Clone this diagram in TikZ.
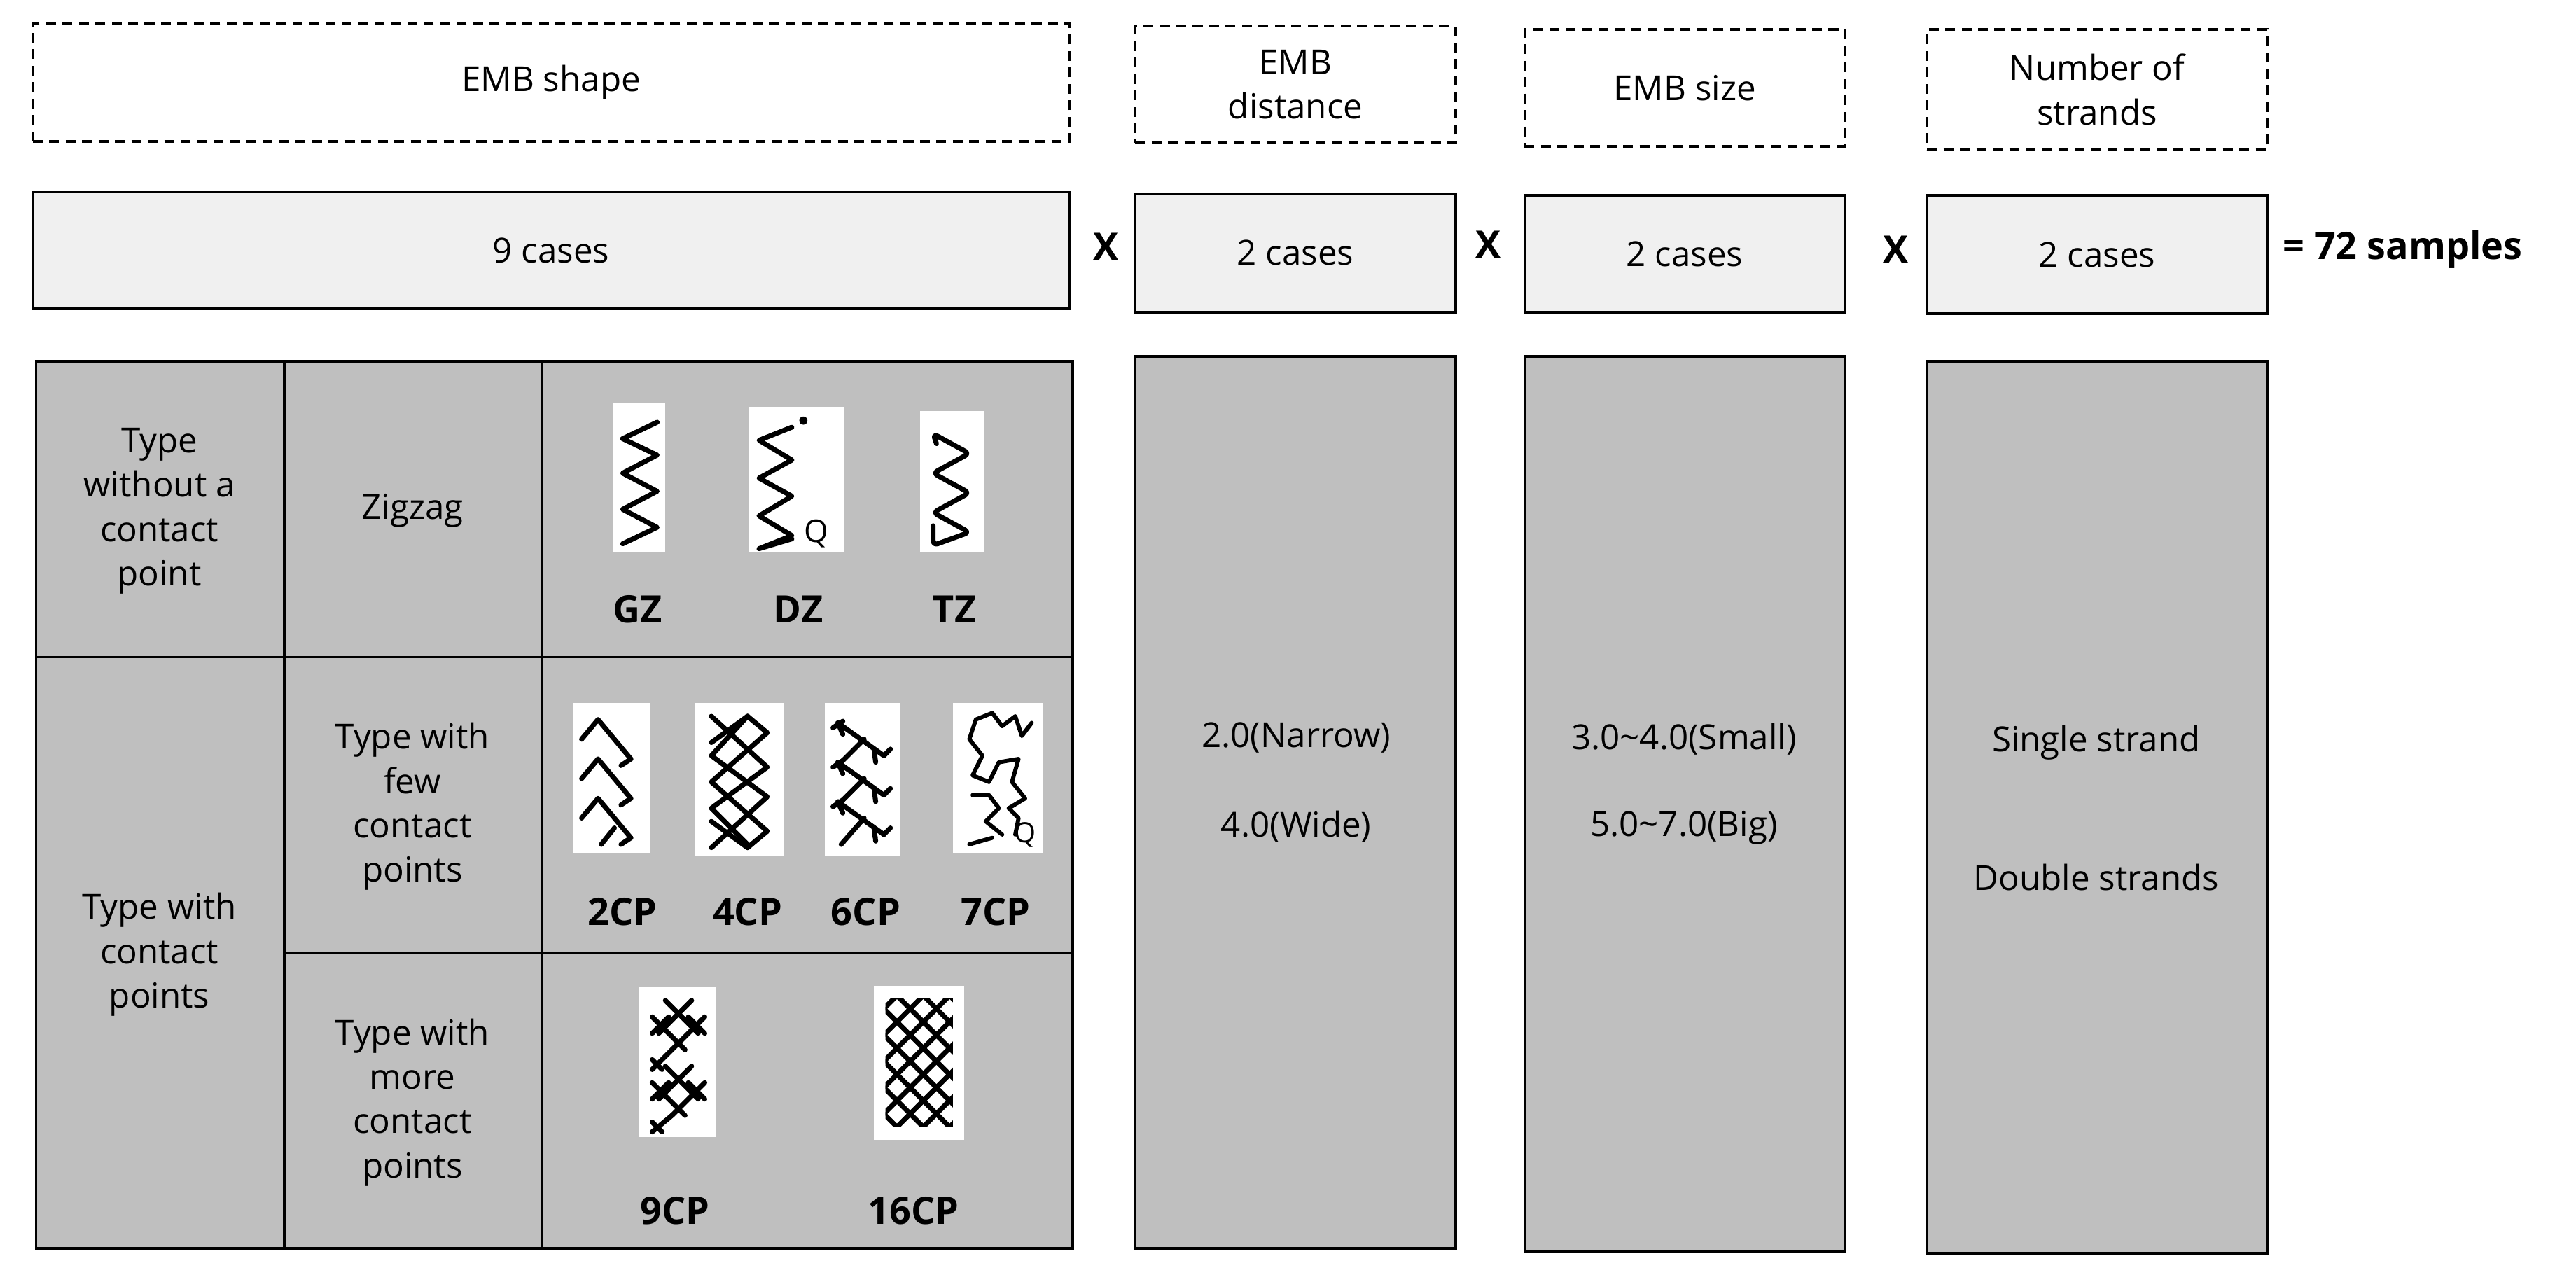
\documentclass[tikz,border=0pt]{standalone}
\usepackage{fontspec}
\setmainfont{Open Sans}
\begin{document}
\begin{tikzpicture}[x=1pt,y=-1pt,
  dbox/.style={draw,dashed,line width=1.6pt,dash pattern=on 6pt off 4pt},
  cbox/.style={draw,line width=1.6pt,fill=gray!12},
  gbox/.style={draw,line width=1.6pt,fill=gray!50},
  txt/.style={font=\fontsize{21}{27}\selectfont,align=center},
  lbl/.style={font=\fontsize{23}{27}\selectfont\bfseries},
  ic/.style={fill=white,draw=none},
  st/.style={line width=3pt,line join=round,line cap=round}]
\useasboundingbox (0,0) rectangle (1568,776);
% headers
\node[dbox,minimum width=631,minimum height=72,txt] (h1) at (335.5,50) {EMB shape};
\node[dbox,minimum width=195,minimum height=71,txt] (h2) at (788.5,51.5) {EMB\\distance};
\node[dbox,minimum width=195,minimum height=71,txt] (h3) at (1025.5,53.5) {EMB size};
\node[dbox,minimum width=207,minimum height=73,txt] (h4) at (1276.5,54.5) {Number of\\strands};
% cases
\node[cbox,minimum width=631,minimum height=71,txt] (c1) at (335.5,152.5) {9 cases};
\node[cbox,minimum width=195,minimum height=72,txt] (c2) at (788.5,154) {2 cases};
\node[cbox,minimum width=195,minimum height=71,txt] (c3) at (1025.5,154.5) {2 cases};
\node[cbox,minimum width=207,minimum height=72,txt] (c4) at (1276.5,155) {2 cases};
\node[lbl] (x1) at (673,150) {X};
\node[lbl] (x2) at (906,149) {X};
\node[lbl] (x3) at (1154,152) {X};
\node[lbl,anchor=west] (eq) at (1386,152) {= 72 samples};
% table
\draw[gbox] (22,220) rectangle (653,760);
\draw[line width=1.6pt] (173,220) -- (173,760) (330,220) -- (330,760)
  (22,400) -- (653,400) (173,580) -- (653,580);
\node[txt] (t1) at (97,311) {Type\\without a\\contact\\point};
\node[txt] (t2) at (97,581) {Type with\\contact\\points};
\node[txt] (t3) at (251,311) {Zigzag};
\node[txt] (t4) at (251,491) {Type with\\few\\contact\\points};
\node[txt] (t5) at (251,671) {Type with\\more\\contact\\points};
% columns
\node[gbox,minimum width=195,minimum height=543] (g2) at (788.5,488.5) {};
\node[gbox,minimum width=195,minimum height=545] (g3) at (1025.5,489.5) {};
\node[gbox,minimum width=207,minimum height=543] (g4) at (1276.5,491.5) {};
\node[txt] at (789,449) {2.0(Narrow)};
\node[txt] at (789,503) {4.0(Wide)};
\node[txt] at (1025,450) {3.0\textasciitilde 4.0(Small)};
\node[txt] at (1025,504) {5.0\textasciitilde 7.0(Big)};
\node[txt] at (1276,452) {Single strand};
\node[txt] at (1276,534) {Double strands};
% labels
\node[lbl] at (388,371) {GZ};
\node[lbl] at (486,371) {DZ};
\node[lbl] at (581,371) {TZ};
\node[lbl] at (379,555) {2CP};
\node[lbl] at (455,555) {4CP};
\node[lbl] at (527,555) {6CP};
\node[lbl] at (606,555) {7CP};
\node[lbl] at (411,737) {9CP};
\node[lbl] at (556,737) {16CP};
% GZ
\fill[ic] (373,245) rectangle (405,336);
\begin{scope}[shift={(373,245)}]
\draw[st] (27,12)--(6,22)--(27,32)--(6,43)--(27,54)--(6,65)--(27,76)--(6,86);
\end{scope}
% DZ
\fill[ic] (456,248) rectangle (514,336);
\begin{scope}[shift={(456,248)}]
\draw[st] (26,12)--(6,20)--(26,32)--(6,43)--(26,54)--(6,66)--(26,78)--(6,86)--(26,80);
\fill (33,8) circle (2.5);
\node[font=\fontsize{19}{20}\selectfont] at (41,77) {Q};
\end{scope}
% TZ
\fill[ic] (560,250) rectangle (599,336);
\begin{scope}[shift={(560,250)}]
\draw[st,rounded corners=3pt] (8,70)--(8,82)--(30,74)--(8,62)--(30,50)--(8,38)--(30,26)--(8,14)--(10,20);
\end{scope}
% 2CP
\fill[ic] (349,428) rectangle (396,519);
\begin{scope}[shift={(349,428)}]
\foreach \k in {0,24,48}{
 \draw[st] (5,22+\k)--(15,10+\k)--(35,34+\k);
 \draw[st] (29,38+\k)--(35,34+\k);}
\draw[st] (17,86)--(25,76);
\end{scope}
% 4CP
\fill[ic] (423,428) rectangle (477,521);
\begin{scope}[shift={(423,428)}]
\draw[st] (10,8)--(44,39)--(10,64)--(32,86);
\draw[st] (10,88)--(44,57)--(10,32)--(32,8);
\draw[st] (32,8)--(44,18)--(10,48)--(44,78)--(32,88);
\draw[st] (32,8)--(10,24);
\draw[st] (10,72)--(32,88);
\end{scope}
% 6CP
\fill[ic] (502,428) rectangle (548,521);
\begin{scope}[shift={(502,428)}]
\foreach \k in {0,24,48}{
 \draw[st] (8,12+\k)--(36,32+\k);
 \draw[st] (5,15+\k)--(11,11+\k) (8,12+\k)--(11,19+\k);
 \draw[st] (36,32+\k)--(40,28+\k) (30,28+\k)--(31,36+\k);}
\draw[st] (24,22)--(8,38) (24,46)--(8,62) (24,70)--(10,86);
\end{scope}
% 7CP
\fill[ic] (580,428) rectangle (635,519);
\begin{scope}[shift={(580,428)}]
\draw[st,line width=2.5pt] (14,10)--(24,6)--(30,14)--(38,8)--(42,20)--(48,12)
 (14,10)--(10,22)--(18,32)--(12,44)--(22,48)--(28,36)--(40,34)--(36,48)--(44,58)--(34,64)
 (12,56)--(22,56)--(28,64)--(20,72)--(30,80) (34,64)--(40,70)--(38,80)
 (10,86)--(24,82);
\node[font=\fontsize{17}{18}\selectfont] at (44,80) {Q};
\end{scope}
% 9CP
\fill[ic] (389,601) rectangle (436,692);
\begin{scope}[shift={(389,601)}]
\foreach \c in {0,40}{
 \begin{scope}[shift={(0,\c)}]
 \draw[st] (16,8)--(36,28) (32,8)--(12,28)
  (8,18)--(28,38) (40,18)--(20,38) (8,28)--(18,18) (40,28)--(30,18);
 \end{scope}}
\draw[st] (20,38)--(8,50) (8,44)--(14,50) (20,78)--(8,88) (8,82)--(14,88);
\end{scope}
% 16CP
\fill[ic] (532,600) rectangle (587,694);
\begin{scope}[shift={(532,600)}]
\begin{scope}
\clip (7,8) rectangle (48,86);
\foreach \d in {-88,-72,...,88}{
 \draw[st] (0,\d)--(60,\d+60);
 \draw[st] (0,\d+60)--(60,\d);}
\end{scope}
\end{scope}
\end{tikzpicture}
\end{document}
